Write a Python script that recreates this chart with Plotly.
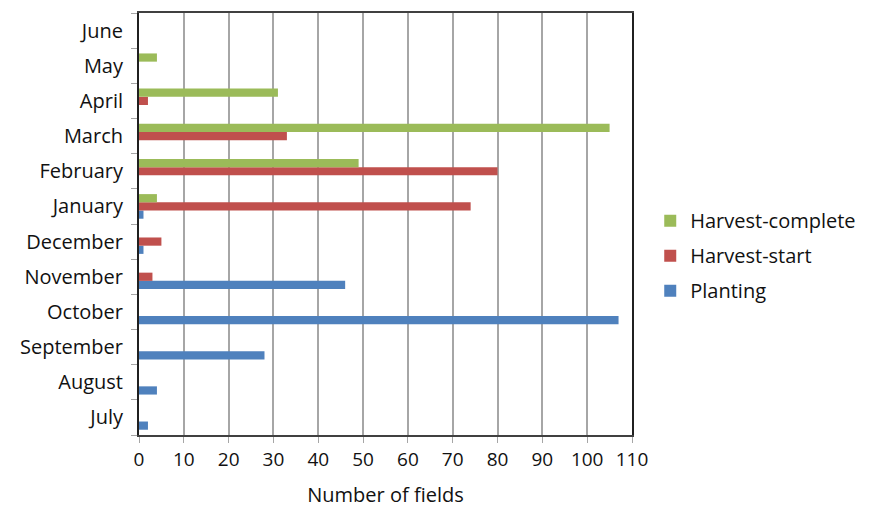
import plotly.graph_objects as go

months = ["July", "August", "September", "October", "November", "December",
          "January", "February", "March", "April", "May", "June"]
planting = [2, 4, 28, 107, 46, 1, 1, 0, 0, 0, 0, 0]
harvest_start = [0, 0, 0, 0, 3, 5, 74, 80, 33, 2, 0, 0]
harvest_complete = [0, 0, 0, 0, 0, 0, 4, 49, 105, 31, 4, 0]
x_ticks = list(range(0, 111, 10))

FONT = "Open Sans"

fig = go.Figure()
fig.add_trace(go.Bar(y=months, x=planting, name="Planting", orientation="h",
                     legendgroup="p", legendrank=3,
                     marker=dict(color="#4F81BD", line=dict(width=0))))
fig.add_trace(go.Bar(y=months, x=harvest_start, name="Harvest-start", orientation="h",
                     legendgroup="s", legendrank=2,
                     marker=dict(color="#C0504D", line=dict(width=0))))
fig.add_trace(go.Bar(y=months, x=harvest_complete, name="Harvest-complete", orientation="h",
                     legendgroup="c", legendrank=1,
                     marker=dict(color="#9BBB59", line=dict(width=0))))

fig.update_layout(
    width=871, height=513,
    margin=dict(l=131, r=247, t=5, b=86, autoexpand=False),
    barmode="group", bargap=0.3, bargroupgap=0,
    plot_bgcolor="white", paper_bgcolor="white",
    font=dict(family=FONT, size=20, color="#111"),
    legend=dict(traceorder="grouped", x=1.037, xanchor="left", y=0.425,
                yanchor="middle", font=dict(size=20), itemwidth=30, tracegroupgap=6),
    xaxis=dict(range=[0, 110], tickvals=x_ticks, showgrid=True, gridcolor="#A6A6A6",
               gridwidth=1.5, showline=True, linecolor="#404040", linewidth=2, mirror=True,
               ticks="outside", ticklen=6, tickcolor="#A6A6A6", zeroline=False,
               automargin=False,
               title=dict(text="Number of fields", font=dict(size=20), standoff=17),
               tickfont=dict(size=19)),
    yaxis=dict(categoryorder="array", categoryarray=months, showline=True,
               linecolor="#202020", linewidth=2, mirror=True, ticks="outside",
               tickson="boundaries", ticklen=6, tickcolor="#A6A6A6", showgrid=False,
               automargin=False,
               tickfont=dict(size=20), ticklabelstandoff=10),
)

fig.write_html("out.html")
